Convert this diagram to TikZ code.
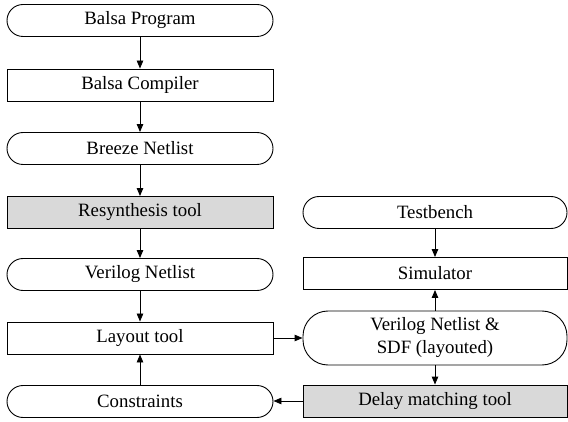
\documentclass[tikz,border=0pt]{standalone}
\usepackage{fontspec}
\newfontfamily\flowfont{LiberationSerif}[Extension=.ttf, UprightFont=*-Regular]
\usetikzlibrary{arrows.meta}
\begin{document}
\begin{tikzpicture}[x=1pt,y=-1pt,
  base/.style={draw=black, line width=0.9pt, inner sep=0pt, align=center,
    font=\flowfont\fontsize{18.8}{23}\selectfont},
  stepbox/.style={base, minimum width=266pt, minimum height=32pt},
  termbox/.style={stepbox, rounded corners=16pt},
  toolbox/.style={stepbox, fill=black!15},
  conn/.style={line width=0.9pt, -{Triangle[length=8pt,width=6.5pt]}}]
  \useasboundingbox (0,0) rectangle (568,422);

  % design flow (left column)
  \node[termbox] (bp) at (140,20.5)  {Balsa Program};
  \node[stepbox] (bc) at (140,85)    {Balsa Compiler};
  \node[termbox] (bn) at (140,148.5) {Breeze Netlist};
  \node[toolbox] (rs) at (140,212.5) {Resynthesis tool};
  \node[termbox] (vn) at (140,274.5) {Verilog Netlist};
  \node[stepbox] (lt) at (140,338)   {Layout tool};
  \node[termbox] (cs) at (140,401.5) {Constraints};

  % verification loop (right column)
  \node[termbox, minimum width=264pt] (tb) at (435,212.5) {Testbench};
  \node[stepbox, minimum width=264pt] (sim) at (435,273.5) {Simulator};
  \node[base, minimum width=264pt, minimum height=54pt, rounded corners=25pt]
    (vs) at (435,338) {Verilog Netlist \&\\SDF (layouted)};
  \node[toolbox, minimum width=264pt] (dm) at (435,401) {Delay matching tool};

  \draw[conn] (bp) -- (bc);
  \draw[conn] (bc) -- (bn);
  \draw[conn] (bn) -- (rs);
  \draw[conn] (rs) -- (vn);
  \draw[conn] (vn) -- (lt);
  \draw[conn] (cs) -- (lt);
  \draw[conn] (lt) -- (vs);
  \draw[conn] (tb) -- (sim);
  \draw[conn] (vs) -- (sim);
  \draw[conn] (vs) -- (dm);
  \draw[conn] (dm.west) -- (cs.east |- dm.west);
\end{tikzpicture}
\end{document}
